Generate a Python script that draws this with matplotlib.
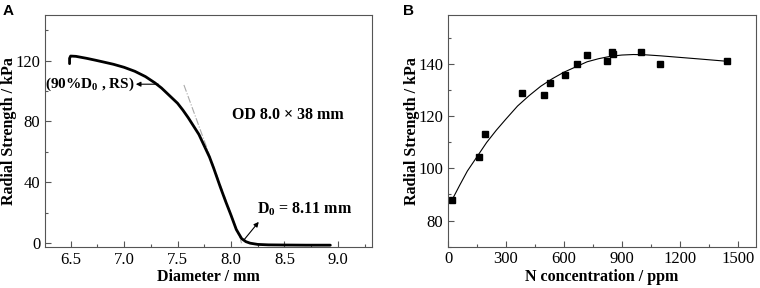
import numpy as np
import matplotlib
matplotlib.use("Agg")
import matplotlib.pyplot as plt
from matplotlib.ticker import MultipleLocator

plt.rcParams['font.family'] = 'Liberation Serif'
plt.rcParams['mathtext.fontset'] = 'custom'
plt.rcParams['mathtext.rm'] = 'Liberation Serif:bold'
plt.rcParams['mathtext.it'] = 'Liberation Serif:bold'

# Panel A: compression curve (diameter vs radial strength)
diam = [6.49, 6.49, 6.50, 6.55, 6.65, 6.73, 6.80, 6.90, 7.00, 7.10, 7.20, 7.29,
        7.35, 7.41, 7.50, 7.55, 7.60, 7.65, 7.70, 7.74, 7.80, 7.84, 7.90, 7.95,
        8.00, 8.05, 8.10, 8.14, 8.18, 8.25, 8.35, 8.50, 8.70, 8.93]
strength = [118, 121.5, 123, 122.8, 121.5, 120.3, 119.2, 117.6, 115.6, 113, 109.5, 105.3,
            102, 98, 92, 87.5, 82.5, 77, 71.5, 65.5, 56.5, 49, 37, 27.5,
            18.5, 9, 3, 1, 0, -0.8, -1.1, -1.2, -1.3, -1.3]
tangent_x = [7.56, 8.10]
tangent_y = [104, 0]

# Panel B: radial strength vs N concentration
n_ppm = [23, 160, 193, 381, 495, 526, 604, 666, 719, 824, 850, 856, 997, 1097, 1445]
rs_kpa = [88.0, 104.4, 113.3, 129.1, 128.2, 132.8, 136.1, 140.2, 143.6, 141.5,
          144.9, 143.9, 144.9, 140.0, 141.4]
fit_x = [25, 60, 100, 150, 200, 250, 300, 360, 420, 480, 540, 600, 660, 720,
         780, 840, 900, 960, 1020, 1100, 1200, 1300, 1445]
fit_y = [88.5, 93.5, 99, 104.5, 110, 114.7, 119, 124, 128, 131.6, 134.5, 137, 139, 141,
         142.2, 143.1, 143.6, 143.8, 143.7, 143.3, 142.7, 142.1, 141.2]

fig = plt.figure(figsize=(7.6, 2.88), dpi=100)
ax_a = fig.add_axes([0.0592, 0.1424, 0.4303, 0.8056])
ax_b = fig.add_axes([0.5895, 0.1440, 0.4053, 0.8040])

def style(ax):
    for s in ax.spines.values():
        s.set_color('#555555')
        s.set_linewidth(0.8)
    ax.tick_params(which='both', direction='in', top=False, right=False,
                   labelsize=12, color='#555555', width=0.8)
    ax.tick_params(which='major', length=4)
    ax.tick_params(which='minor', length=2)

# --- A ---
ax_a.plot(tangent_x, tangent_y, color='#aaaaaa', lw=0.8, ls='-.')
ax_a.plot(diam, strength, color='black', lw=2.0, solid_capstyle='round')
ax_a.set_xlim(6.26, 9.32)
ax_a.set_ylim(-2.5, 150)
ax_a.xaxis.set_major_locator(MultipleLocator(0.5))
ax_a.xaxis.set_minor_locator(MultipleLocator(0.25))
ax_a.yaxis.set_major_locator(MultipleLocator(40))
ax_a.yaxis.set_minor_locator(MultipleLocator(20))
ax_a.xaxis.set_major_formatter(matplotlib.ticker.FormatStrFormatter('%.1f'))
style(ax_a)
ax_a.set_xlabel('Diameter / mm', fontsize=11.5, fontweight='bold', labelpad=1)
ax_a.set_ylabel('Radial Strength / kPa', fontsize=11.5, fontweight='bold', labelpad=-1)

arrow = dict(arrowstyle='-|>', color='black', lw=0.8, mutation_scale=7,
             shrinkA=0, shrinkB=0)
ax_a.annotate('', xy=(7.11, 104.5), xytext=(7.32, 104.5), arrowprops=arrow)
ax_a.text(7.10, 104.5, r'(90%D$_0$ , RS)', ha='right', va='center',
          fontsize=11, fontweight='bold')
ax_a.annotate('', xy=(8.26, 14), xytext=(8.12, 2), arrowprops=arrow)
ax_a.text(8.245, 22.5, r'D$_0$ = 8.11 mm', ha='left', va='center',
          fontsize=11.5, fontweight='bold')
ax_a.text(8.01, 84.5, 'OD 8.0 × 38 mm', ha='left', va='center',
          fontsize=11.5, fontweight='bold')

# --- B ---
ax_b.plot(fit_x, fit_y, color='black', lw=0.8)
ax_b.plot(n_ppm, rs_kpa, 's', color='black', ms=4.5)
ax_b.set_xlim(0, 1595)
ax_b.set_ylim(70, 159)
ax_b.xaxis.set_major_locator(MultipleLocator(300))
ax_b.xaxis.set_minor_locator(MultipleLocator(150))
ax_b.yaxis.set_major_locator(MultipleLocator(20))
ax_b.yaxis.set_minor_locator(MultipleLocator(10))
style(ax_b)
ax_b.set_xlabel('N concentration / ppm', fontsize=11.5, fontweight='bold', labelpad=1)
ax_b.set_ylabel('Radial Strength / kPa', fontsize=11.5, fontweight='bold', labelpad=-1)

fig.text(0.004, 0.985, 'A', fontsize=11, fontweight='bold', family='Liberation Sans',
         ha='left', va='top')
fig.text(0.530, 0.985, 'B', fontsize=11, fontweight='bold', family='Liberation Sans',
         ha='left', va='top')

fig.savefig('out.png', dpi=100)
